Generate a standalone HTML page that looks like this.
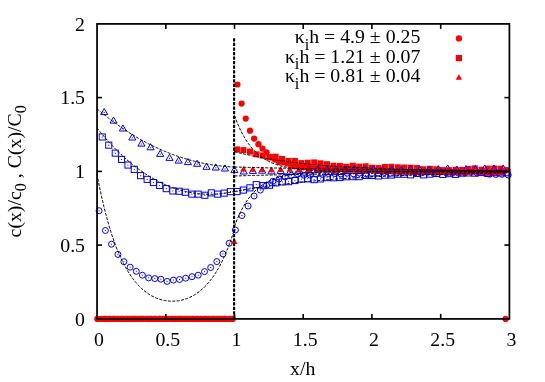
<!DOCTYPE html>
<html><head><meta charset="utf-8"><title>plot</title>
<style>html,body{margin:0;padding:0;background:#fff}svg{display:block;will-change:transform}</style>
</head><body>
<svg width="545" height="382" viewBox="0 0 545 382">
<rect width="545" height="382" fill="#fff"/>
<g fill="none" stroke="#0000ff" stroke-width="1">
<circle cx="99.1" cy="210.7" r="3.0"/>
<circle cx="105.4" cy="230.5" r="3.0"/>
<circle cx="111.5" cy="244.2" r="3.0"/>
<circle cx="117.9" cy="254.4" r="3.0"/>
<circle cx="123.9" cy="261.7" r="3.0"/>
<circle cx="130.1" cy="267.2" r="3.0"/>
<circle cx="136.3" cy="271.3" r="3.0"/>
<circle cx="142.4" cy="275.2" r="3.0"/>
<circle cx="148.6" cy="277.9" r="3.0"/>
<circle cx="154.8" cy="278.6" r="3.0"/>
<circle cx="160.9" cy="279.2" r="3.0"/>
<circle cx="167.1" cy="281.4" r="3.0"/>
<circle cx="173.4" cy="280.1" r="3.0"/>
<circle cx="179.5" cy="279.5" r="3.0"/>
<circle cx="185.7" cy="278.2" r="3.0"/>
<circle cx="192.0" cy="276.7" r="3.0"/>
<circle cx="198.2" cy="275.2" r="3.0"/>
<circle cx="204.5" cy="271.6" r="3.0"/>
<circle cx="210.7" cy="267.5" r="3.0"/>
<circle cx="216.8" cy="261.6" r="3.0"/>
<circle cx="223.0" cy="253.9" r="3.0"/>
<circle cx="229.2" cy="243.2" r="3.0"/>
<circle cx="235.4" cy="230.0" r="3.0"/>
<circle cx="241.9" cy="215.5" r="3.0"/>
<circle cx="248.1" cy="206.0" r="3.0"/>
<circle cx="254.1" cy="196.0" r="3.0"/>
<circle cx="260.3" cy="190.1" r="3.0"/>
<circle cx="266.5" cy="185.3" r="3.0"/>
<circle cx="272.8" cy="181.3" r="3.0"/>
<circle cx="278.9" cy="179.1" r="3.0"/>
<circle cx="285.2" cy="176.9" r="3.0"/>
<circle cx="291.4" cy="175.4" r="3.0"/>
<circle cx="297.7" cy="174.0" r="3.0"/>
<circle cx="303.9" cy="175.2" r="3.0"/>
<circle cx="310.1" cy="175.1" r="3.0"/>
<circle cx="316.3" cy="174.0" r="3.0"/>
<circle cx="322.5" cy="174.6" r="3.0"/>
<circle cx="328.6" cy="173.7" r="3.0"/>
<circle cx="334.8" cy="173.7" r="3.0"/>
<circle cx="341.0" cy="174.0" r="3.0"/>
<circle cx="347.2" cy="173.2" r="3.0"/>
<circle cx="353.4" cy="173.8" r="3.0"/>
<circle cx="359.6" cy="173.1" r="3.0"/>
<circle cx="365.8" cy="173.6" r="3.0"/>
<circle cx="372.0" cy="173.5" r="3.0"/>
<circle cx="378.2" cy="173.0" r="3.0"/>
<circle cx="384.4" cy="172.3" r="3.0"/>
<circle cx="390.5" cy="173.3" r="3.0"/>
<circle cx="396.7" cy="173.1" r="3.0"/>
<circle cx="402.9" cy="172.5" r="3.0"/>
<circle cx="409.1" cy="172.0" r="3.0"/>
<circle cx="415.3" cy="172.6" r="3.0"/>
<circle cx="421.5" cy="172.8" r="3.0"/>
<circle cx="427.7" cy="171.9" r="3.0"/>
<circle cx="433.9" cy="173.3" r="3.0"/>
<circle cx="440.1" cy="172.1" r="3.0"/>
<circle cx="446.3" cy="172.9" r="3.0"/>
<circle cx="452.4" cy="173.1" r="3.0"/>
<circle cx="458.6" cy="173.2" r="3.0"/>
<circle cx="464.8" cy="172.9" r="3.0"/>
<circle cx="471.0" cy="172.1" r="3.0"/>
<circle cx="477.2" cy="173.1" r="3.0"/>
<circle cx="483.4" cy="172.5" r="3.0"/>
<circle cx="489.6" cy="174.2" r="3.0"/>
<circle cx="495.8" cy="174.5" r="3.0"/>
<circle cx="502.0" cy="174.3" r="3.0"/>
<circle cx="508.2" cy="175.0" r="3.0"/>
</g><g fill="#0000ff">
<rect x="98.6" y="210.2" width="1" height="1"/>
<rect x="104.9" y="230.0" width="1" height="1"/>
<rect x="111.0" y="243.7" width="1" height="1"/>
<rect x="117.4" y="253.9" width="1" height="1"/>
<rect x="123.4" y="261.2" width="1" height="1"/>
<rect x="129.6" y="266.7" width="1" height="1"/>
<rect x="135.8" y="270.8" width="1" height="1"/>
<rect x="141.9" y="274.7" width="1" height="1"/>
<rect x="148.1" y="277.4" width="1" height="1"/>
<rect x="154.3" y="278.1" width="1" height="1"/>
<rect x="160.4" y="278.7" width="1" height="1"/>
<rect x="166.6" y="280.9" width="1" height="1"/>
<rect x="172.9" y="279.6" width="1" height="1"/>
<rect x="179.0" y="279.0" width="1" height="1"/>
<rect x="185.2" y="277.7" width="1" height="1"/>
<rect x="191.5" y="276.2" width="1" height="1"/>
<rect x="197.7" y="274.7" width="1" height="1"/>
<rect x="204.0" y="271.1" width="1" height="1"/>
<rect x="210.2" y="267.0" width="1" height="1"/>
<rect x="216.3" y="261.1" width="1" height="1"/>
<rect x="222.5" y="253.4" width="1" height="1"/>
<rect x="228.7" y="242.7" width="1" height="1"/>
<rect x="234.9" y="229.5" width="1" height="1"/>
<rect x="241.4" y="215.0" width="1" height="1"/>
<rect x="247.6" y="205.5" width="1" height="1"/>
<rect x="253.6" y="195.5" width="1" height="1"/>
<rect x="259.8" y="189.6" width="1" height="1"/>
<rect x="266.0" y="184.8" width="1" height="1"/>
<rect x="272.3" y="180.8" width="1" height="1"/>
<rect x="278.4" y="178.6" width="1" height="1"/>
<rect x="284.7" y="176.4" width="1" height="1"/>
<rect x="290.9" y="174.9" width="1" height="1"/>
<rect x="297.2" y="173.5" width="1" height="1"/>
<rect x="303.4" y="174.7" width="1" height="1"/>
<rect x="309.6" y="174.6" width="1" height="1"/>
<rect x="315.8" y="173.5" width="1" height="1"/>
<rect x="322.0" y="174.1" width="1" height="1"/>
<rect x="328.1" y="173.2" width="1" height="1"/>
<rect x="334.3" y="173.2" width="1" height="1"/>
<rect x="340.5" y="173.5" width="1" height="1"/>
<rect x="346.7" y="172.7" width="1" height="1"/>
<rect x="352.9" y="173.3" width="1" height="1"/>
<rect x="359.1" y="172.6" width="1" height="1"/>
<rect x="365.3" y="173.1" width="1" height="1"/>
<rect x="371.5" y="173.0" width="1" height="1"/>
<rect x="377.7" y="172.5" width="1" height="1"/>
<rect x="383.9" y="171.8" width="1" height="1"/>
<rect x="390.0" y="172.8" width="1" height="1"/>
<rect x="396.2" y="172.6" width="1" height="1"/>
<rect x="402.4" y="172.0" width="1" height="1"/>
<rect x="408.6" y="171.5" width="1" height="1"/>
<rect x="414.8" y="172.1" width="1" height="1"/>
<rect x="421.0" y="172.3" width="1" height="1"/>
<rect x="427.2" y="171.4" width="1" height="1"/>
<rect x="433.4" y="172.8" width="1" height="1"/>
<rect x="439.6" y="171.6" width="1" height="1"/>
<rect x="445.8" y="172.4" width="1" height="1"/>
<rect x="451.9" y="172.6" width="1" height="1"/>
<rect x="458.1" y="172.7" width="1" height="1"/>
<rect x="464.3" y="172.4" width="1" height="1"/>
<rect x="470.5" y="171.6" width="1" height="1"/>
<rect x="476.7" y="172.6" width="1" height="1"/>
<rect x="482.9" y="172.0" width="1" height="1"/>
<rect x="489.1" y="173.7" width="1" height="1"/>
<rect x="495.3" y="174.0" width="1" height="1"/>
<rect x="501.5" y="173.8" width="1" height="1"/>
<rect x="507.7" y="174.5" width="1" height="1"/>
</g>
<g fill="#ff0000">
<circle cx="97.3" cy="318.9" r="3.1"/>
<circle cx="101.4" cy="318.9" r="3.1"/>
<circle cx="105.6" cy="318.9" r="3.1"/>
<circle cx="109.7" cy="318.9" r="3.1"/>
<circle cx="113.9" cy="318.9" r="3.1"/>
<circle cx="118.0" cy="318.9" r="3.1"/>
<circle cx="122.1" cy="318.9" r="3.1"/>
<circle cx="126.3" cy="318.9" r="3.1"/>
<circle cx="130.4" cy="318.9" r="3.1"/>
<circle cx="134.6" cy="318.9" r="3.1"/>
<circle cx="138.7" cy="318.9" r="3.1"/>
<circle cx="142.8" cy="318.9" r="3.1"/>
<circle cx="147.0" cy="318.9" r="3.1"/>
<circle cx="151.1" cy="318.9" r="3.1"/>
<circle cx="155.3" cy="318.9" r="3.1"/>
<circle cx="159.4" cy="318.9" r="3.1"/>
<circle cx="163.5" cy="318.9" r="3.1"/>
<circle cx="167.7" cy="318.9" r="3.1"/>
<circle cx="171.8" cy="318.9" r="3.1"/>
<circle cx="176.0" cy="318.9" r="3.1"/>
<circle cx="180.1" cy="318.9" r="3.1"/>
<circle cx="184.2" cy="318.9" r="3.1"/>
<circle cx="188.4" cy="318.9" r="3.1"/>
<circle cx="192.5" cy="318.9" r="3.1"/>
<circle cx="196.7" cy="318.9" r="3.1"/>
<circle cx="200.8" cy="318.9" r="3.1"/>
<circle cx="204.9" cy="318.9" r="3.1"/>
<circle cx="209.1" cy="318.9" r="3.1"/>
<circle cx="213.2" cy="318.9" r="3.1"/>
<circle cx="217.4" cy="318.9" r="3.1"/>
<circle cx="221.5" cy="318.9" r="3.1"/>
<circle cx="225.6" cy="318.9" r="3.1"/>
<circle cx="229.8" cy="318.9" r="3.1"/>
<circle cx="237.4" cy="84.5" r="3.1"/>
<circle cx="241.6" cy="103.6" r="3.1"/>
<circle cx="245.7" cy="118.6" r="3.1"/>
<circle cx="250.0" cy="130.7" r="3.1"/>
<circle cx="254.1" cy="138.6" r="3.1"/>
<circle cx="258.4" cy="144.2" r="3.1"/>
<circle cx="262.5" cy="148.6" r="3.1"/>
<circle cx="266.5" cy="152.3" r="3.1"/>
<circle cx="270.6" cy="156.8" r="3.1"/>
<circle cx="274.8" cy="159.6" r="3.1"/>
<circle cx="278.9" cy="161.8" r="3.1"/>
<circle cx="283.1" cy="162.5" r="3.1"/>
<circle cx="287.2" cy="163.5" r="3.1"/>
<circle cx="291.3" cy="165.6" r="3.1"/>
<circle cx="295.5" cy="166.2" r="3.1"/>
<circle cx="299.6" cy="166.7" r="3.1"/>
<circle cx="303.8" cy="167.1" r="3.1"/>
<circle cx="307.9" cy="167.1" r="3.1"/>
<circle cx="312.0" cy="167.3" r="3.1"/>
<circle cx="316.2" cy="168.1" r="3.1"/>
<circle cx="320.3" cy="168.8" r="3.1"/>
<circle cx="324.5" cy="168.5" r="3.1"/>
<circle cx="328.6" cy="168.8" r="3.1"/>
<circle cx="332.7" cy="168.7" r="3.1"/>
<circle cx="336.9" cy="168.4" r="3.1"/>
<circle cx="341.0" cy="169.0" r="3.1"/>
<circle cx="345.2" cy="169.4" r="3.1"/>
<circle cx="349.3" cy="169.4" r="3.1"/>
<circle cx="353.4" cy="169.5" r="3.1"/>
<circle cx="357.6" cy="170.6" r="3.1"/>
<circle cx="361.7" cy="169.5" r="3.1"/>
<circle cx="365.9" cy="169.8" r="3.1"/>
<circle cx="370.0" cy="169.8" r="3.1"/>
<circle cx="374.1" cy="170.0" r="3.1"/>
<circle cx="378.3" cy="170.8" r="3.1"/>
<circle cx="382.4" cy="170.9" r="3.1"/>
<circle cx="386.6" cy="171.4" r="3.1"/>
<circle cx="390.7" cy="170.7" r="3.1"/>
<circle cx="394.8" cy="171.7" r="3.1"/>
<circle cx="399.0" cy="171.8" r="3.1"/>
<circle cx="403.1" cy="171.6" r="3.1"/>
<circle cx="407.3" cy="171.8" r="3.1"/>
<circle cx="411.4" cy="171.6" r="3.1"/>
<circle cx="415.5" cy="172.1" r="3.1"/>
<circle cx="419.7" cy="172.3" r="3.1"/>
<circle cx="423.8" cy="172.1" r="3.1"/>
<circle cx="428.0" cy="172.3" r="3.1"/>
<circle cx="432.1" cy="171.9" r="3.1"/>
<circle cx="436.2" cy="172.5" r="3.1"/>
<circle cx="440.4" cy="171.3" r="3.1"/>
<circle cx="444.5" cy="171.7" r="3.1"/>
<circle cx="448.7" cy="172.5" r="3.1"/>
<circle cx="452.8" cy="172.4" r="3.1"/>
<circle cx="456.9" cy="172.3" r="3.1"/>
<circle cx="461.1" cy="172.3" r="3.1"/>
<circle cx="465.2" cy="172.7" r="3.1"/>
<circle cx="469.4" cy="171.7" r="3.1"/>
<circle cx="473.5" cy="171.5" r="3.1"/>
<circle cx="477.6" cy="172.3" r="3.1"/>
<circle cx="481.8" cy="172.3" r="3.1"/>
<circle cx="485.9" cy="172.9" r="3.1"/>
<circle cx="490.1" cy="173.0" r="3.1"/>
<circle cx="494.2" cy="172.6" r="3.1"/>
<circle cx="498.3" cy="172.8" r="3.1"/>
<circle cx="502.5" cy="172.0" r="3.1"/>
<circle cx="505.6" cy="318.9" r="3.1"/>
<circle cx="232.7" cy="318.9" r="3.1"/>
</g>
<g fill="none" stroke="#0000ff" stroke-width="1">
<rect x="99.2" y="133.9" width="6.1" height="6.1"/>
<rect x="105.7" y="142.1" width="6.1" height="6.1"/>
<rect x="112.2" y="150.1" width="6.1" height="6.1"/>
<rect x="118.5" y="156.4" width="6.1" height="6.1"/>
<rect x="124.9" y="162.0" width="6.1" height="6.1"/>
<rect x="131.2" y="166.3" width="6.1" height="6.1"/>
<rect x="137.5" y="172.6" width="6.1" height="6.1"/>
<rect x="144.1" y="176.3" width="6.1" height="6.1"/>
<rect x="150.3" y="179.5" width="6.1" height="6.1"/>
<rect x="156.6" y="182.4" width="6.1" height="6.1"/>
<rect x="163.2" y="185.6" width="6.1" height="6.1"/>
<rect x="169.8" y="187.9" width="6.1" height="6.1"/>
<rect x="176.0" y="188.2" width="6.1" height="6.1"/>
<rect x="182.3" y="189.2" width="6.1" height="6.1"/>
<rect x="188.8" y="191.1" width="6.1" height="6.1"/>
<rect x="195.1" y="191.1" width="6.1" height="6.1"/>
<rect x="201.8" y="192.2" width="6.1" height="6.1"/>
<rect x="208.3" y="189.8" width="6.1" height="6.1"/>
<rect x="214.6" y="191.1" width="6.1" height="6.1"/>
<rect x="221.1" y="190.1" width="6.1" height="6.1"/>
<rect x="227.4" y="188.6" width="6.1" height="6.1"/>
<rect x="234.0" y="188.5" width="6.1" height="6.1"/>
<rect x="240.3" y="187.0" width="6.1" height="6.1"/>
<rect x="246.9" y="184.8" width="6.1" height="6.1"/>
<rect x="253.2" y="181.6" width="6.1" height="6.1"/>
<rect x="260.1" y="182.6" width="6.1" height="6.1"/>
<rect x="266.4" y="182.2" width="6.1" height="6.1"/>
<rect x="272.9" y="179.8" width="6.1" height="6.1"/>
<rect x="279.2" y="178.9" width="6.1" height="6.1"/>
<rect x="285.6" y="178.6" width="6.1" height="6.1"/>
<rect x="291.9" y="177.5" width="6.1" height="6.1"/>
<rect x="298.3" y="176.0" width="6.1" height="6.1"/>
<rect x="304.6" y="175.8" width="6.1" height="6.1"/>
<rect x="311.1" y="176.6" width="6.1" height="6.1"/>
<rect x="317.5" y="175.9" width="6.1" height="6.1"/>
<rect x="323.9" y="174.6" width="6.1" height="6.1"/>
<rect x="330.4" y="174.7" width="6.1" height="6.1"/>
<rect x="336.8" y="174.5" width="6.1" height="6.1"/>
<rect x="343.2" y="173.7" width="6.1" height="6.1"/>
<rect x="349.7" y="173.6" width="6.1" height="6.1"/>
<rect x="356.1" y="173.6" width="6.1" height="6.1"/>
<rect x="362.5" y="172.4" width="6.1" height="6.1"/>
<rect x="369.0" y="172.4" width="6.1" height="6.1"/>
<rect x="375.4" y="172.9" width="6.1" height="6.1"/>
<rect x="381.8" y="172.1" width="6.1" height="6.1"/>
<rect x="388.2" y="172.0" width="6.1" height="6.1"/>
<rect x="394.7" y="171.2" width="6.1" height="6.1"/>
<rect x="401.1" y="171.2" width="6.1" height="6.1"/>
<rect x="407.5" y="171.8" width="6.1" height="6.1"/>
<rect x="414.0" y="170.4" width="6.1" height="6.1"/>
<rect x="420.4" y="171.8" width="6.1" height="6.1"/>
<rect x="426.8" y="171.1" width="6.1" height="6.1"/>
<rect x="433.3" y="170.4" width="6.1" height="6.1"/>
<rect x="439.7" y="171.4" width="6.1" height="6.1"/>
<rect x="446.1" y="170.6" width="6.1" height="6.1"/>
<rect x="452.5" y="171.3" width="6.1" height="6.1"/>
<rect x="459.0" y="170.1" width="6.1" height="6.1"/>
<rect x="465.4" y="169.9" width="6.1" height="6.1"/>
<rect x="471.8" y="170.1" width="6.1" height="6.1"/>
<rect x="478.3" y="169.5" width="6.1" height="6.1"/>
<rect x="484.7" y="170.4" width="6.1" height="6.1"/>
<rect x="491.1" y="169.7" width="6.1" height="6.1"/>
<rect x="497.6" y="169.8" width="6.1" height="6.1"/>
<rect x="504.0" y="169.7" width="6.1" height="6.1"/>
</g><g fill="#0000ff">
<rect x="101.8" y="136.5" width="1" height="1"/>
<rect x="108.2" y="144.7" width="1" height="1"/>
<rect x="114.7" y="152.7" width="1" height="1"/>
<rect x="121.1" y="159.0" width="1" height="1"/>
<rect x="127.4" y="164.6" width="1" height="1"/>
<rect x="133.8" y="168.9" width="1" height="1"/>
<rect x="140.1" y="175.2" width="1" height="1"/>
<rect x="146.7" y="178.9" width="1" height="1"/>
<rect x="152.9" y="182.1" width="1" height="1"/>
<rect x="159.2" y="185.0" width="1" height="1"/>
<rect x="165.8" y="188.2" width="1" height="1"/>
<rect x="172.3" y="190.5" width="1" height="1"/>
<rect x="178.6" y="190.8" width="1" height="1"/>
<rect x="184.9" y="191.8" width="1" height="1"/>
<rect x="191.4" y="193.7" width="1" height="1"/>
<rect x="197.7" y="193.7" width="1" height="1"/>
<rect x="204.3" y="194.8" width="1" height="1"/>
<rect x="210.9" y="192.3" width="1" height="1"/>
<rect x="217.2" y="193.7" width="1" height="1"/>
<rect x="223.7" y="192.7" width="1" height="1"/>
<rect x="230.0" y="191.2" width="1" height="1"/>
<rect x="236.6" y="191.1" width="1" height="1"/>
<rect x="242.9" y="189.6" width="1" height="1"/>
<rect x="249.5" y="187.4" width="1" height="1"/>
<rect x="255.8" y="184.2" width="1" height="1"/>
<rect x="262.7" y="185.2" width="1" height="1"/>
<rect x="269.0" y="184.8" width="1" height="1"/>
<rect x="275.5" y="182.3" width="1" height="1"/>
<rect x="281.8" y="181.5" width="1" height="1"/>
<rect x="288.1" y="181.2" width="1" height="1"/>
<rect x="294.5" y="180.1" width="1" height="1"/>
<rect x="300.9" y="178.6" width="1" height="1"/>
<rect x="307.2" y="178.3" width="1" height="1"/>
<rect x="313.6" y="179.1" width="1" height="1"/>
<rect x="320.1" y="178.4" width="1" height="1"/>
<rect x="326.5" y="177.2" width="1" height="1"/>
<rect x="332.9" y="177.2" width="1" height="1"/>
<rect x="339.4" y="177.1" width="1" height="1"/>
<rect x="345.8" y="176.3" width="1" height="1"/>
<rect x="352.2" y="176.2" width="1" height="1"/>
<rect x="358.6" y="176.1" width="1" height="1"/>
<rect x="365.1" y="175.0" width="1" height="1"/>
<rect x="371.5" y="174.9" width="1" height="1"/>
<rect x="377.9" y="175.5" width="1" height="1"/>
<rect x="384.4" y="174.7" width="1" height="1"/>
<rect x="390.8" y="174.5" width="1" height="1"/>
<rect x="397.2" y="173.7" width="1" height="1"/>
<rect x="403.7" y="173.8" width="1" height="1"/>
<rect x="410.1" y="174.4" width="1" height="1"/>
<rect x="416.5" y="173.0" width="1" height="1"/>
<rect x="422.9" y="174.4" width="1" height="1"/>
<rect x="429.4" y="173.7" width="1" height="1"/>
<rect x="435.8" y="173.0" width="1" height="1"/>
<rect x="442.2" y="173.9" width="1" height="1"/>
<rect x="448.7" y="173.2" width="1" height="1"/>
<rect x="455.1" y="173.9" width="1" height="1"/>
<rect x="461.5" y="172.7" width="1" height="1"/>
<rect x="468.0" y="172.4" width="1" height="1"/>
<rect x="474.4" y="172.7" width="1" height="1"/>
<rect x="480.8" y="172.0" width="1" height="1"/>
<rect x="487.2" y="173.0" width="1" height="1"/>
<rect x="493.7" y="172.2" width="1" height="1"/>
<rect x="500.1" y="172.3" width="1" height="1"/>
<rect x="506.5" y="172.3" width="1" height="1"/>
</g>
<g fill="#ff0000">
<rect x="99.3" y="315.9" width="6" height="6"/>
<rect x="105.7" y="315.9" width="6" height="6"/>
<rect x="112.2" y="315.9" width="6" height="6"/>
<rect x="118.6" y="315.9" width="6" height="6"/>
<rect x="125.0" y="315.9" width="6" height="6"/>
<rect x="131.4" y="315.9" width="6" height="6"/>
<rect x="137.9" y="315.9" width="6" height="6"/>
<rect x="144.3" y="315.9" width="6" height="6"/>
<rect x="150.7" y="315.9" width="6" height="6"/>
<rect x="157.2" y="315.9" width="6" height="6"/>
<rect x="163.6" y="315.9" width="6" height="6"/>
<rect x="170.0" y="315.9" width="6" height="6"/>
<rect x="176.5" y="315.9" width="6" height="6"/>
<rect x="182.9" y="315.9" width="6" height="6"/>
<rect x="189.3" y="315.9" width="6" height="6"/>
<rect x="195.8" y="315.9" width="6" height="6"/>
<rect x="202.2" y="315.9" width="6" height="6"/>
<rect x="208.6" y="315.9" width="6" height="6"/>
<rect x="215.0" y="315.9" width="6" height="6"/>
<rect x="221.5" y="315.9" width="6" height="6"/>
<rect x="227.9" y="315.9" width="6" height="6"/>
<rect x="234.1" y="146.4" width="6" height="6"/>
<rect x="240.4" y="147.1" width="6" height="6"/>
<rect x="247.0" y="148.6" width="6" height="6"/>
<rect x="253.3" y="151.3" width="6" height="6"/>
<rect x="259.7" y="152.5" width="6" height="6"/>
<rect x="266.2" y="154.5" width="6" height="6"/>
<rect x="272.6" y="153.7" width="6" height="6"/>
<rect x="279.0" y="156.0" width="6" height="6"/>
<rect x="285.5" y="158.0" width="6" height="6"/>
<rect x="291.9" y="158.0" width="6" height="6"/>
<rect x="298.3" y="160.1" width="6" height="6"/>
<rect x="304.7" y="159.7" width="6" height="6"/>
<rect x="311.2" y="159.4" width="6" height="6"/>
<rect x="317.6" y="160.3" width="6" height="6"/>
<rect x="324.0" y="161.2" width="6" height="6"/>
<rect x="330.5" y="162.7" width="6" height="6"/>
<rect x="336.9" y="162.9" width="6" height="6"/>
<rect x="343.3" y="163.8" width="6" height="6"/>
<rect x="349.8" y="162.7" width="6" height="6"/>
<rect x="356.2" y="163.6" width="6" height="6"/>
<rect x="362.6" y="163.3" width="6" height="6"/>
<rect x="369.0" y="164.7" width="6" height="6"/>
<rect x="375.5" y="165.1" width="6" height="6"/>
<rect x="381.9" y="164.0" width="6" height="6"/>
<rect x="388.3" y="163.8" width="6" height="6"/>
<rect x="394.8" y="164.3" width="6" height="6"/>
<rect x="401.2" y="164.5" width="6" height="6"/>
<rect x="407.6" y="164.7" width="6" height="6"/>
<rect x="414.1" y="165.0" width="6" height="6"/>
<rect x="420.5" y="166.3" width="6" height="6"/>
<rect x="426.9" y="165.8" width="6" height="6"/>
<rect x="433.3" y="166.3" width="6" height="6"/>
<rect x="439.8" y="167.1" width="6" height="6"/>
<rect x="446.2" y="167.2" width="6" height="6"/>
<rect x="452.6" y="166.7" width="6" height="6"/>
<rect x="459.1" y="166.9" width="6" height="6"/>
<rect x="465.5" y="165.9" width="6" height="6"/>
<rect x="471.9" y="165.4" width="6" height="6"/>
<rect x="478.4" y="166.7" width="6" height="6"/>
<rect x="484.8" y="165.6" width="6" height="6"/>
<rect x="491.2" y="165.5" width="6" height="6"/>
<rect x="497.6" y="165.7" width="6" height="6"/>
<rect x="504.1" y="167.1" width="6" height="6"/>
</g>
<g fill="none" stroke="#0000ff" stroke-width="1">
<path d="M104.2 108.5l3.55 6.1h-7.1z"/>
<path d="M113.5 117.0l3.55 6.1h-7.1z"/>
<path d="M122.9 124.9l3.55 6.1h-7.1z"/>
<path d="M132.3 133.9l3.55 6.1h-7.1z"/>
<path d="M141.4 140.0l3.55 6.1h-7.1z"/>
<path d="M150.6 143.7l3.55 6.1h-7.1z"/>
<path d="M160.2 150.3l3.55 6.1h-7.1z"/>
<path d="M169.5 154.3l3.55 6.1h-7.1z"/>
<path d="M178.6 157.0l3.55 6.1h-7.1z"/>
<path d="M187.9 158.5l3.55 6.1h-7.1z"/>
<path d="M197.1 160.2l3.55 6.1h-7.1z"/>
<path d="M206.5 163.2l3.55 6.1h-7.1z"/>
<path d="M215.8 163.9l3.55 6.1h-7.1z"/>
<path d="M225.0 164.9l3.55 6.1h-7.1z"/>
<path d="M234.4 166.5l3.55 6.1h-7.1z"/>
<path d="M243.7 167.9l3.55 6.1h-7.1z"/>
<path d="M252.9 167.3l3.55 6.1h-7.1z"/>
<path d="M262.2 167.1l3.55 6.1h-7.1z"/>
<path d="M271.5 167.8l3.55 6.1h-7.1z"/>
<path d="M280.8 167.4l3.55 6.1h-7.1z"/>
<path d="M290.0 168.2l3.55 6.1h-7.1z"/>
<path d="M299.3 167.0l3.55 6.1h-7.1z"/>
<path d="M308.6 166.8l3.55 6.1h-7.1z"/>
<path d="M317.8 165.9l3.55 6.1h-7.1z"/>
<path d="M327.1 165.8l3.55 6.1h-7.1z"/>
<path d="M336.4 166.3l3.55 6.1h-7.1z"/>
<path d="M345.6 165.9l3.55 6.1h-7.1z"/>
<path d="M354.9 165.4l3.55 6.1h-7.1z"/>
<path d="M364.2 166.3l3.55 6.1h-7.1z"/>
<path d="M373.4 165.6l3.55 6.1h-7.1z"/>
<path d="M382.7 166.0l3.55 6.1h-7.1z"/>
<path d="M392.0 166.1l3.55 6.1h-7.1z"/>
<path d="M401.3 166.1l3.55 6.1h-7.1z"/>
<path d="M410.5 165.1l3.55 6.1h-7.1z"/>
<path d="M419.8 166.0l3.55 6.1h-7.1z"/>
<path d="M429.1 165.9l3.55 6.1h-7.1z"/>
<path d="M438.3 165.6l3.55 6.1h-7.1z"/>
<path d="M447.6 164.9l3.55 6.1h-7.1z"/>
<path d="M456.9 166.1l3.55 6.1h-7.1z"/>
<path d="M466.1 165.6l3.55 6.1h-7.1z"/>
<path d="M475.4 165.4l3.55 6.1h-7.1z"/>
<path d="M484.7 164.9l3.55 6.1h-7.1z"/>
<path d="M494.0 165.0l3.55 6.1h-7.1z"/>
<path d="M503.2 164.9l3.55 6.1h-7.1z"/>
</g><g fill="#0000ff">
<rect x="103.7" y="112.0" width="1" height="1"/>
<rect x="113.0" y="120.5" width="1" height="1"/>
<rect x="122.4" y="128.4" width="1" height="1"/>
<rect x="131.8" y="137.4" width="1" height="1"/>
<rect x="140.9" y="143.5" width="1" height="1"/>
<rect x="150.1" y="147.2" width="1" height="1"/>
<rect x="159.7" y="153.8" width="1" height="1"/>
<rect x="169.0" y="157.8" width="1" height="1"/>
<rect x="178.1" y="160.5" width="1" height="1"/>
<rect x="187.4" y="162.0" width="1" height="1"/>
<rect x="196.6" y="163.7" width="1" height="1"/>
<rect x="206.0" y="166.7" width="1" height="1"/>
<rect x="215.3" y="167.4" width="1" height="1"/>
<rect x="224.5" y="168.4" width="1" height="1"/>
<rect x="233.9" y="170.0" width="1" height="1"/>
<rect x="243.2" y="171.4" width="1" height="1"/>
<rect x="252.4" y="170.8" width="1" height="1"/>
<rect x="261.7" y="170.6" width="1" height="1"/>
<rect x="271.0" y="171.3" width="1" height="1"/>
<rect x="280.2" y="170.9" width="1" height="1"/>
<rect x="289.5" y="171.7" width="1" height="1"/>
<rect x="298.8" y="170.5" width="1" height="1"/>
<rect x="308.1" y="170.3" width="1" height="1"/>
<rect x="317.3" y="169.4" width="1" height="1"/>
<rect x="326.6" y="169.3" width="1" height="1"/>
<rect x="335.9" y="169.8" width="1" height="1"/>
<rect x="345.1" y="169.4" width="1" height="1"/>
<rect x="354.4" y="168.9" width="1" height="1"/>
<rect x="363.7" y="169.8" width="1" height="1"/>
<rect x="372.9" y="169.1" width="1" height="1"/>
<rect x="382.2" y="169.5" width="1" height="1"/>
<rect x="391.5" y="169.6" width="1" height="1"/>
<rect x="400.8" y="169.6" width="1" height="1"/>
<rect x="410.0" y="168.6" width="1" height="1"/>
<rect x="419.3" y="169.5" width="1" height="1"/>
<rect x="428.6" y="169.4" width="1" height="1"/>
<rect x="437.8" y="169.1" width="1" height="1"/>
<rect x="447.1" y="168.4" width="1" height="1"/>
<rect x="456.4" y="169.6" width="1" height="1"/>
<rect x="465.6" y="169.1" width="1" height="1"/>
<rect x="474.9" y="168.9" width="1" height="1"/>
<rect x="484.2" y="168.4" width="1" height="1"/>
<rect x="493.5" y="168.5" width="1" height="1"/>
<rect x="502.7" y="168.4" width="1" height="1"/>
</g>
<g fill="#ff0000">
<path d="M104.2 315.4l3.3 5.6h-6.6z"/>
<path d="M113.5 315.4l3.3 5.6h-6.6z"/>
<path d="M122.7 315.4l3.3 5.6h-6.6z"/>
<path d="M132.0 315.4l3.3 5.6h-6.6z"/>
<path d="M141.3 315.4l3.3 5.6h-6.6z"/>
<path d="M150.6 315.4l3.3 5.6h-6.6z"/>
<path d="M159.8 315.4l3.3 5.6h-6.6z"/>
<path d="M169.1 315.4l3.3 5.6h-6.6z"/>
<path d="M178.4 315.4l3.3 5.6h-6.6z"/>
<path d="M187.6 315.4l3.3 5.6h-6.6z"/>
<path d="M196.9 315.4l3.3 5.6h-6.6z"/>
<path d="M206.2 315.4l3.3 5.6h-6.6z"/>
<path d="M215.4 315.4l3.3 5.6h-6.6z"/>
<path d="M224.7 315.4l3.3 5.6h-6.6z"/>
<path d="M234.2 238.3l3.3 5.6h-6.6z"/>
<path d="M243.5 165.9l3.3 5.6h-6.6z"/>
<path d="M252.7 166.2l3.3 5.6h-6.6z"/>
<path d="M262.0 166.5l3.3 5.6h-6.6z"/>
<path d="M271.3 166.7l3.3 5.6h-6.6z"/>
<path d="M280.5 166.4l3.3 5.6h-6.6z"/>
<path d="M289.8 166.2l3.3 5.6h-6.6z"/>
<path d="M299.1 166.5l3.3 5.6h-6.6z"/>
<path d="M308.4 167.0l3.3 5.6h-6.6z"/>
<path d="M317.6 166.9l3.3 5.6h-6.6z"/>
<path d="M326.9 166.9l3.3 5.6h-6.6z"/>
<path d="M336.2 167.8l3.3 5.6h-6.6z"/>
<path d="M345.4 167.2l3.3 5.6h-6.6z"/>
<path d="M354.7 167.0l3.3 5.6h-6.6z"/>
<path d="M364.0 167.2l3.3 5.6h-6.6z"/>
<path d="M373.2 167.3l3.3 5.6h-6.6z"/>
<path d="M382.5 167.6l3.3 5.6h-6.6z"/>
<path d="M391.8 168.0l3.3 5.6h-6.6z"/>
<path d="M401.1 167.3l3.3 5.6h-6.6z"/>
<path d="M410.3 167.9l3.3 5.6h-6.6z"/>
<path d="M419.6 167.4l3.3 5.6h-6.6z"/>
<path d="M428.9 167.2l3.3 5.6h-6.6z"/>
<path d="M438.1 167.9l3.3 5.6h-6.6z"/>
<path d="M447.4 167.9l3.3 5.6h-6.6z"/>
<path d="M456.7 167.3l3.3 5.6h-6.6z"/>
<path d="M465.9 167.5l3.3 5.6h-6.6z"/>
<path d="M475.2 168.2l3.3 5.6h-6.6z"/>
<path d="M484.5 168.3l3.3 5.6h-6.6z"/>
<path d="M493.8 168.3l3.3 5.6h-6.6z"/>
<path d="M503.0 167.4l3.3 5.6h-6.6z"/>
</g>
<g fill="none" stroke="#000" stroke-width="1" stroke-dasharray="3 1.4">
<polyline points="97.0,174.3 98.2,180.3 99.3,186.0 100.5,191.5 101.6,196.8 102.8,201.8 103.9,206.6 105.1,211.2 106.2,215.6 107.4,219.9 108.5,223.9 109.6,227.8 110.8,231.5 111.9,235.1 113.1,238.5 114.2,241.7 115.4,244.9 116.5,247.9 117.7,250.7 118.8,253.5 120.0,256.1 121.1,258.6 122.2,261.0 123.4,263.3 124.5,265.5 125.7,267.6 126.8,269.6 128.0,271.5 129.1,273.3 130.3,275.0 131.4,276.7 132.6,278.3 133.7,279.8 134.8,281.3 136.0,282.6 137.1,284.0 138.3,285.2 139.4,286.4 140.6,287.5 141.7,288.6 142.9,289.6 144.0,290.6 145.2,291.5 146.3,292.4 147.4,293.2 148.6,294.0 149.7,294.7 150.9,295.4 152.0,296.0 153.2,296.6 154.3,297.2 155.5,297.7 156.6,298.2 157.8,298.6 158.9,299.0 160.0,299.4 161.2,299.7 162.3,300.0 163.5,300.3 164.6,300.5 165.8,300.7 166.9,300.9 168.1,301.0 169.2,301.1 170.4,301.2 171.5,301.2 172.6,301.2 173.8,301.2 174.9,301.1 176.1,301.0 177.2,300.9 178.4,300.8 179.5,300.6 180.7,300.3 181.8,300.1 183.0,299.8 184.1,299.5 185.2,299.1 186.4,298.7 187.5,298.3 188.7,297.8 189.8,297.3 191.0,296.8 192.1,296.2 193.3,295.6 194.4,294.9 195.6,294.2 196.7,293.4 197.8,292.6 199.0,291.8 200.1,290.9 201.3,289.9 202.4,288.9 203.6,287.9 204.7,286.7 205.9,285.6 207.0,284.3 208.2,283.0 209.3,281.7 210.4,280.3 211.6,278.8 212.7,277.2 213.9,275.6 215.0,273.8 216.2,272.0 217.3,270.1 218.5,268.2 219.6,266.1 220.8,263.9 221.9,261.7 223.0,259.3 224.2,256.8 225.3,254.2 226.5,251.5 227.6,248.7 228.8,245.8 229.9,242.7 231.1,239.5 232.2,236.1 233.4,232.6 234.5,228.9"/>
<polyline points="97.0,127.9 98.2,129.3 99.3,130.8 100.5,132.2 101.6,133.6 102.8,134.9 103.9,136.3 105.1,137.6 106.2,139.0 107.4,140.3 108.5,141.5 109.6,142.8 110.8,144.0 111.9,145.3 113.1,146.5 114.2,147.7 115.4,148.9 116.5,150.0 117.7,151.2 118.8,152.3 120.0,153.4 121.1,154.5 122.2,155.5 123.4,156.6 124.5,157.6 125.7,158.7 126.8,159.7 128.0,160.7 129.1,161.6 130.3,162.6 131.4,163.5 132.6,164.5 133.7,165.4 134.8,166.3 136.0,167.2 137.1,168.0 138.3,168.9 139.4,169.7 140.6,170.5 141.7,171.3 142.9,172.1 144.0,172.9 145.2,173.7 146.3,174.4 147.4,175.1 148.6,175.9 149.7,176.6 150.9,177.2 152.0,177.9 153.2,178.6 154.3,179.2 155.5,179.8 156.6,180.5 157.8,181.1 158.9,181.7 160.0,182.2 161.2,182.8 162.3,183.3 163.5,183.9 164.6,184.4 165.8,184.9 166.9,185.4 168.1,185.9 169.2,186.3 170.4,186.8 171.5,187.2 172.6,187.6 173.8,188.0 174.9,188.4 176.1,188.8 177.2,189.2 178.4,189.5 179.5,189.9 180.7,190.2 181.8,190.5 183.0,190.8 184.1,191.1 185.2,191.4 186.4,191.7 187.5,191.9 188.7,192.2 189.8,192.4 191.0,192.6 192.1,192.8 193.3,193.0 194.4,193.2 195.6,193.3 196.7,193.5 197.8,193.6 199.0,193.8 200.1,193.9 201.3,194.0 202.4,194.0 203.6,194.1 204.7,194.2 205.9,194.2 207.0,194.3 208.2,194.3 209.3,194.3 210.4,194.3 211.6,194.3 212.7,194.3 213.9,194.2 215.0,194.2 216.2,194.1 217.3,194.0 218.5,193.9 219.6,193.8 220.8,193.7 221.9,193.6 223.0,193.4 224.2,193.3 225.3,193.1 226.5,192.9 227.6,192.7 228.8,192.5 229.9,192.3 231.1,192.1 232.2,191.8 233.4,191.6 234.5,191.3"/>
<polyline points="97.0,108.7 98.2,109.7 99.3,110.7 100.5,111.6 101.6,112.6 102.8,113.5 103.9,114.4 105.1,115.3 106.2,116.3 107.4,117.2 108.5,118.1 109.6,118.9 110.8,119.8 111.9,120.7 113.1,121.5 114.2,122.4 115.4,123.2 116.5,124.0 117.7,124.9 118.8,125.7 120.0,126.5 121.1,127.3 122.2,128.1 123.4,128.8 124.5,129.6 125.7,130.4 126.8,131.1 128.0,131.9 129.1,132.6 130.3,133.3 131.4,134.0 132.6,134.7 133.7,135.4 134.8,136.1 136.0,136.8 137.1,137.5 138.3,138.2 139.4,138.8 140.6,139.5 141.7,140.1 142.9,140.7 144.0,141.4 145.2,142.0 146.3,142.6 147.4,143.2 148.6,143.8 149.7,144.4 150.9,144.9 152.0,145.5 153.2,146.1 154.3,146.6 155.5,147.2 156.6,147.7 157.8,148.2 158.9,148.8 160.0,149.3 161.2,149.8 162.3,150.3 163.5,150.8 164.6,151.3 165.8,151.7 166.9,152.2 168.1,152.7 169.2,153.1 170.4,153.6 171.5,154.0 172.6,154.4 173.8,154.9 174.9,155.3 176.1,155.7 177.2,156.1 178.4,156.5 179.5,156.9 180.7,157.2 181.8,157.6 183.0,158.0 184.1,158.3 185.2,158.7 186.4,159.0 187.5,159.4 188.7,159.7 189.8,160.0 191.0,160.3 192.1,160.6 193.3,160.9 194.4,161.2 195.6,161.5 196.7,161.8 197.8,162.1 199.0,162.3 200.1,162.6 201.3,162.8 202.4,163.1 203.6,163.3 204.7,163.5 205.9,163.7 207.0,164.0 208.2,164.2 209.3,164.4 210.4,164.6 211.6,164.7 212.7,164.9 213.9,165.1 215.0,165.3 216.2,165.4 217.3,165.6 218.5,165.7 219.6,165.8 220.8,166.0 221.9,166.1 223.0,166.2 224.2,166.3 225.3,166.4 226.5,166.5 227.6,166.6 228.8,166.7 229.9,166.8 231.1,166.8 232.2,166.9 233.4,166.9 234.5,167.0"/>
<polyline points="234.5,115.5 235.9,119.2 237.2,122.6 238.6,125.9 239.9,128.9 241.3,131.7 242.7,134.3 244.0,136.7 245.4,139.0 246.7,141.2 248.1,143.2 249.5,145.0 250.8,146.8 252.2,148.4 253.6,149.9 254.9,151.3 256.3,152.7 257.6,153.9 259.0,155.1 260.4,156.1 261.7,157.1 263.1,158.1 264.4,159.0 265.8,159.8 267.2,160.5 268.5,161.3 269.9,161.9 271.2,162.6 272.6,163.1 274.0,163.7 275.3,164.2 276.7,164.7 278.0,165.1 279.4,165.5 280.8,165.9 282.1,166.3 283.5,166.6 284.8,166.9 286.2,167.2 287.6,167.5 288.9,167.8 290.3,168.0 291.7,168.2 293.0,168.4 294.4,168.6 295.7,168.8 297.1,169.0 298.5,169.1 299.8,169.3 301.2,169.4 302.5,169.6 303.9,169.7 305.3,169.8 306.6,169.9 308.0,170.0 309.3,170.1 310.7,170.2 312.1,170.3 313.4,170.3 314.8,170.4 316.1,170.5 317.5,170.5 318.9,170.6 320.2,170.6 321.6,170.7 322.9,170.7 324.3,170.8 325.7,170.8 327.0,170.9 328.4,170.9 329.8,170.9 331.1,171.0 332.5,171.0 333.8,171.0 335.2,171.0 336.6,171.1 337.9,171.1 339.3,171.1 340.6,171.1 342.0,171.1 343.4,171.2 344.7,171.2 346.1,171.2 347.4,171.2 348.8,171.2 350.2,171.2 351.5,171.2 352.9,171.3 354.2,171.3 355.6,171.3 357.0,171.3 358.3,171.3 359.7,171.3 361.1,171.3 362.4,171.3 363.8,171.3 365.1,171.3 366.5,171.3 367.9,171.3 369.2,171.3 370.6,171.3 371.9,171.3 373.3,171.3 374.7,171.4 376.0,171.4 377.4,171.4 378.7,171.4 380.1,171.4 381.5,171.4 382.8,171.4 384.2,171.4 385.5,171.4 386.9,171.4 388.3,171.4 389.6,171.4 391.0,171.4 392.3,171.4 393.7,171.4 395.1,171.4 396.4,171.4 397.8,171.4 399.2,171.4 400.5,171.4 401.9,171.4 403.2,171.4 404.6,171.4 406.0,171.4 407.3,171.4 408.7,171.4 410.0,171.4 411.4,171.4 412.8,171.4 414.1,171.4 415.5,171.4 416.8,171.4 418.2,171.4 419.6,171.4 420.9,171.4 422.3,171.4 423.6,171.4 425.0,171.4 426.4,171.4 427.7,171.4 429.1,171.4 430.4,171.4 431.8,171.4 433.2,171.4 434.5,171.4 435.9,171.4 437.3,171.4 438.6,171.4 440.0,171.4 441.3,171.4 442.7,171.4 444.1,171.4 445.4,171.4 446.8,171.4 448.1,171.4 449.5,171.4 450.9,171.4 452.2,171.4 453.6,171.4 454.9,171.4 456.3,171.4 457.7,171.4 459.0,171.4 460.4,171.4 461.7,171.4 463.1,171.4 464.5,171.4 465.8,171.4 467.2,171.4 468.5,171.4 469.9,171.4 471.3,171.4 472.6,171.4 474.0,171.4 475.4,171.4 476.7,171.4 478.1,171.4 479.4,171.4 480.8,171.4 482.2,171.4 483.5,171.4 484.9,171.4 486.2,171.4 487.6,171.4 489.0,171.4 490.3,171.4 491.7,171.4 493.0,171.4 494.4,171.4 495.8,171.4 497.1,171.4 498.5,171.4 499.8,171.4 501.2,171.4 502.6,171.4 503.9,171.4 505.3,171.4 506.7,171.4"/>
<polyline points="234.5,151.6 235.9,152.0 237.2,152.3 238.6,152.7 239.9,153.0 241.3,153.4 242.7,153.7 244.0,154.0 245.4,154.3 246.7,154.6 248.1,154.9 249.5,155.2 250.8,155.5 252.2,155.8 253.6,156.1 254.9,156.4 256.3,156.6 257.6,156.9 259.0,157.2 260.4,157.4 261.7,157.7 263.1,157.9 264.4,158.2 265.8,158.4 267.2,158.6 268.5,158.9 269.9,159.1 271.2,159.3 272.6,159.5 274.0,159.7 275.3,160.0 276.7,160.2 278.0,160.4 279.4,160.6 280.8,160.8 282.1,161.0 283.5,161.1 284.8,161.3 286.2,161.5 287.6,161.7 288.9,161.9 290.3,162.0 291.7,162.2 293.0,162.4 294.4,162.5 295.7,162.7 297.1,162.8 298.5,163.0 299.8,163.2 301.2,163.3 302.5,163.5 303.9,163.6 305.3,163.7 306.6,163.9 308.0,164.0 309.3,164.1 310.7,164.3 312.1,164.4 313.4,164.5 314.8,164.7 316.1,164.8 317.5,164.9 318.9,165.0 320.2,165.1 321.6,165.2 322.9,165.4 324.3,165.5 325.7,165.6 327.0,165.7 328.4,165.8 329.8,165.9 331.1,166.0 332.5,166.1 333.8,166.2 335.2,166.3 336.6,166.4 337.9,166.4 339.3,166.5 340.6,166.6 342.0,166.7 343.4,166.8 344.7,166.9 346.1,167.0 347.4,167.0 348.8,167.1 350.2,167.2 351.5,167.3 352.9,167.3 354.2,167.4 355.6,167.5 357.0,167.6 358.3,167.6 359.7,167.7 361.1,167.8 362.4,167.8 363.8,167.9 365.1,168.0 366.5,168.0 367.9,168.1 369.2,168.1 370.6,168.2 371.9,168.3 373.3,168.3 374.7,168.4 376.0,168.4 377.4,168.5 378.7,168.5 380.1,168.6 381.5,168.6 382.8,168.7 384.2,168.7 385.5,168.8 386.9,168.8 388.3,168.9 389.6,168.9 391.0,169.0 392.3,169.0 393.7,169.1 395.1,169.1 396.4,169.1 397.8,169.2 399.2,169.2 400.5,169.3 401.9,169.3 403.2,169.3 404.6,169.4 406.0,169.4 407.3,169.4 408.7,169.5 410.0,169.5 411.4,169.5 412.8,169.6 414.1,169.6 415.5,169.6 416.8,169.7 418.2,169.7 419.6,169.7 420.9,169.8 422.3,169.8 423.6,169.8 425.0,169.9 426.4,169.9 427.7,169.9 429.1,169.9 430.4,170.0 431.8,170.0 433.2,170.0 434.5,170.0 435.9,170.1 437.3,170.1 438.6,170.1 440.0,170.1 441.3,170.2 442.7,170.2 444.1,170.2 445.4,170.2 446.8,170.2 448.1,170.3 449.5,170.3 450.9,170.3 452.2,170.3 453.6,170.3 454.9,170.4 456.3,170.4 457.7,170.4 459.0,170.4 460.4,170.4 461.7,170.5 463.1,170.5 464.5,170.5 465.8,170.5 467.2,170.5 468.5,170.5 469.9,170.6 471.3,170.6 472.6,170.6 474.0,170.6 475.4,170.6 476.7,170.6 478.1,170.6 479.4,170.7 480.8,170.7 482.2,170.7 483.5,170.7 484.9,170.7 486.2,170.7 487.6,170.7 489.0,170.7 490.3,170.8 491.7,170.8 493.0,170.8 494.4,170.8 495.8,170.8 497.1,170.8 498.5,170.8 499.8,170.8 501.2,170.8 502.6,170.9 503.9,170.9 505.3,170.9 506.7,170.9"/>
<polyline points="234.5,167.0 235.9,167.0 237.2,167.1 238.6,167.1 239.9,167.1 241.3,167.2 242.7,167.2 244.0,167.2 245.4,167.3 246.7,167.3 248.1,167.4 249.5,167.4 250.8,167.4 252.2,167.5 253.6,167.5 254.9,167.5 256.3,167.6 257.6,167.6 259.0,167.6 260.4,167.7 261.7,167.7 263.1,167.7 264.4,167.8 265.8,167.8 267.2,167.8 268.5,167.9 269.9,167.9 271.2,167.9 272.6,168.0 274.0,168.0 275.3,168.0 276.7,168.0 278.0,168.1 279.4,168.1 280.8,168.1 282.1,168.2 283.5,168.2 284.8,168.2 286.2,168.2 287.6,168.3 288.9,168.3 290.3,168.3 291.7,168.4 293.0,168.4 294.4,168.4 295.7,168.4 297.1,168.5 298.5,168.5 299.8,168.5 301.2,168.5 302.5,168.6 303.9,168.6 305.3,168.6 306.6,168.6 308.0,168.7 309.3,168.7 310.7,168.7 312.1,168.7 313.4,168.8 314.8,168.8 316.1,168.8 317.5,168.8 318.9,168.9 320.2,168.9 321.6,168.9 322.9,168.9 324.3,168.9 325.7,169.0 327.0,169.0 328.4,169.0 329.8,169.0 331.1,169.0 332.5,169.1 333.8,169.1 335.2,169.1 336.6,169.1 337.9,169.2 339.3,169.2 340.6,169.2 342.0,169.2 343.4,169.2 344.7,169.2 346.1,169.3 347.4,169.3 348.8,169.3 350.2,169.3 351.5,169.3 352.9,169.4 354.2,169.4 355.6,169.4 357.0,169.4 358.3,169.4 359.7,169.5 361.1,169.5 362.4,169.5 363.8,169.5 365.1,169.5 366.5,169.5 367.9,169.6 369.2,169.6 370.6,169.6 371.9,169.6 373.3,169.6 374.7,169.6 376.0,169.6 377.4,169.7 378.7,169.7 380.1,169.7 381.5,169.7 382.8,169.7 384.2,169.7 385.5,169.8 386.9,169.8 388.3,169.8 389.6,169.8 391.0,169.8 392.3,169.8 393.7,169.8 395.1,169.9 396.4,169.9 397.8,169.9 399.2,169.9 400.5,169.9 401.9,169.9 403.2,169.9 404.6,169.9 406.0,170.0 407.3,170.0 408.7,170.0 410.0,170.0 411.4,170.0 412.8,170.0 414.1,170.0 415.5,170.0 416.8,170.1 418.2,170.1 419.6,170.1 420.9,170.1 422.3,170.1 423.6,170.1 425.0,170.1 426.4,170.1 427.7,170.2 429.1,170.2 430.4,170.2 431.8,170.2 433.2,170.2 434.5,170.2 435.9,170.2 437.3,170.2 438.6,170.2 440.0,170.2 441.3,170.3 442.7,170.3 444.1,170.3 445.4,170.3 446.8,170.3 448.1,170.3 449.5,170.3 450.9,170.3 452.2,170.3 453.6,170.3 454.9,170.4 456.3,170.4 457.7,170.4 459.0,170.4 460.4,170.4 461.7,170.4 463.1,170.4 464.5,170.4 465.8,170.4 467.2,170.4 468.5,170.4 469.9,170.5 471.3,170.5 472.6,170.5 474.0,170.5 475.4,170.5 476.7,170.5 478.1,170.5 479.4,170.5 480.8,170.5 482.2,170.5 483.5,170.5 484.9,170.5 486.2,170.5 487.6,170.6 489.0,170.6 490.3,170.6 491.7,170.6 493.0,170.6 494.4,170.6 495.8,170.6 497.1,170.6 498.5,170.6 499.8,170.6 501.2,170.6 502.6,170.6 503.9,170.6 505.3,170.6 506.7,170.7"/>
<polyline points="234.5,226.3 235.9,222.6 237.2,219.3 238.6,216.1 239.9,213.2 241.3,210.4 242.7,207.8 244.0,205.4 245.4,203.2 246.7,201.1 248.1,199.1 249.5,197.3 250.8,195.6 252.2,194.0 253.6,192.5 254.9,191.1 256.3,189.8 257.6,188.6 259.0,187.4 260.4,186.4 261.7,185.4 263.1,184.5 264.4,183.6 265.8,182.8 267.2,182.0 268.5,181.3 269.9,180.7 271.2,180.1 272.6,179.5 274.0,179.0 275.3,178.5 276.7,178.0 278.0,177.6 279.4,177.2 280.8,176.8 282.1,176.4 283.5,176.1 284.8,175.8 286.2,175.5 287.6,175.2 288.9,175.0 290.3,174.7 291.7,174.5 293.0,174.3 294.4,174.1 295.7,173.9 297.1,173.8 298.5,173.6 299.8,173.5 301.2,173.3 302.5,173.2 303.9,173.1 305.3,173.0 306.6,172.9 308.0,172.8 309.3,172.7 310.7,172.6 312.1,172.5 313.4,172.4 314.8,172.4 316.1,172.3 317.5,172.3 318.9,172.2 320.2,172.1 321.6,172.1 322.9,172.0 324.3,172.0 325.7,172.0 327.0,171.9 328.4,171.9 329.8,171.9 331.1,171.8 332.5,171.8 333.8,171.8 335.2,171.7 336.6,171.7 337.9,171.7 339.3,171.7 340.6,171.7 342.0,171.6 343.4,171.6 344.7,171.6 346.1,171.6 347.4,171.6 348.8,171.6 350.2,171.6 351.5,171.6 352.9,171.5 354.2,171.5 355.6,171.5 357.0,171.5 358.3,171.5 359.7,171.5 361.1,171.5 362.4,171.5 363.8,171.5 365.1,171.5 366.5,171.5 367.9,171.5 369.2,171.5 370.6,171.5 371.9,171.5 373.3,171.5 374.7,171.4 376.0,171.4 377.4,171.4 378.7,171.4 380.1,171.4 381.5,171.4 382.8,171.4 384.2,171.4 385.5,171.4 386.9,171.4 388.3,171.4 389.6,171.4 391.0,171.4 392.3,171.4 393.7,171.4 395.1,171.4 396.4,171.4 397.8,171.4 399.2,171.4 400.5,171.4 401.9,171.4 403.2,171.4 404.6,171.4 406.0,171.4 407.3,171.4 408.7,171.4 410.0,171.4 411.4,171.4 412.8,171.4 414.1,171.4 415.5,171.4 416.8,171.4 418.2,171.4 419.6,171.4 420.9,171.4 422.3,171.4 423.6,171.4 425.0,171.4 426.4,171.4 427.7,171.4 429.1,171.4 430.4,171.4 431.8,171.4 433.2,171.4 434.5,171.4 435.9,171.4 437.3,171.4 438.6,171.4 440.0,171.4 441.3,171.4 442.7,171.4 444.1,171.4 445.4,171.4 446.8,171.4 448.1,171.4 449.5,171.4 450.9,171.4 452.2,171.4 453.6,171.4 454.9,171.4 456.3,171.4 457.7,171.4 459.0,171.4 460.4,171.4 461.7,171.4 463.1,171.4 464.5,171.4 465.8,171.4 467.2,171.4 468.5,171.4 469.9,171.4 471.3,171.4 472.6,171.4 474.0,171.4 475.4,171.4 476.7,171.4 478.1,171.4 479.4,171.4 480.8,171.4 482.2,171.4 483.5,171.4 484.9,171.4 486.2,171.4 487.6,171.4 489.0,171.4 490.3,171.4 491.7,171.4 493.0,171.4 494.4,171.4 495.8,171.4 497.1,171.4 498.5,171.4 499.8,171.4 501.2,171.4 502.6,171.4 503.9,171.4 505.3,171.4 506.7,171.4"/>
<polyline points="234.5,191.6 235.9,191.3 237.2,191.1 238.6,190.8 239.9,190.6 241.3,190.3 242.7,190.1 244.0,189.9 245.4,189.6 246.7,189.4 248.1,189.2 249.5,188.9 250.8,188.7 252.2,188.5 253.6,188.3 254.9,188.1 256.3,187.8 257.6,187.6 259.0,187.4 260.4,187.2 261.7,187.0 263.1,186.8 264.4,186.6 265.8,186.4 267.2,186.2 268.5,186.0 269.9,185.9 271.2,185.7 272.6,185.5 274.0,185.3 275.3,185.1 276.7,185.0 278.0,184.8 279.4,184.6 280.8,184.4 282.1,184.3 283.5,184.1 284.8,184.0 286.2,183.8 287.6,183.6 288.9,183.5 290.3,183.3 291.7,183.2 293.0,183.0 294.4,182.9 295.7,182.7 297.1,182.6 298.5,182.4 299.8,182.3 301.2,182.2 302.5,182.0 303.9,181.9 305.3,181.7 306.6,181.6 308.0,181.5 309.3,181.4 310.7,181.2 312.1,181.1 313.4,181.0 314.8,180.9 316.1,180.7 317.5,180.6 318.9,180.5 320.2,180.4 321.6,180.3 322.9,180.2 324.3,180.0 325.7,179.9 327.0,179.8 328.4,179.7 329.8,179.6 331.1,179.5 332.5,179.4 333.8,179.3 335.2,179.2 336.6,179.1 337.9,179.0 339.3,178.9 340.6,178.8 342.0,178.7 343.4,178.6 344.7,178.5 346.1,178.4 347.4,178.3 348.8,178.3 350.2,178.2 351.5,178.1 352.9,178.0 354.2,177.9 355.6,177.8 357.0,177.7 358.3,177.7 359.7,177.6 361.1,177.5 362.4,177.4 363.8,177.4 365.1,177.3 366.5,177.2 367.9,177.1 369.2,177.1 370.6,177.0 371.9,176.9 373.3,176.8 374.7,176.8 376.0,176.7 377.4,176.6 378.7,176.6 380.1,176.5 381.5,176.4 382.8,176.4 384.2,176.3 385.5,176.2 386.9,176.2 388.3,176.1 389.6,176.1 391.0,176.0 392.3,175.9 393.7,175.9 395.1,175.8 396.4,175.8 397.8,175.7 399.2,175.7 400.5,175.6 401.9,175.5 403.2,175.5 404.6,175.4 406.0,175.4 407.3,175.3 408.7,175.3 410.0,175.2 411.4,175.2 412.8,175.1 414.1,175.1 415.5,175.0 416.8,175.0 418.2,175.0 419.6,174.9 420.9,174.9 422.3,174.8 423.6,174.8 425.0,174.7 426.4,174.7 427.7,174.6 429.1,174.6 430.4,174.6 431.8,174.5 433.2,174.5 434.5,174.4 435.9,174.4 437.3,174.4 438.6,174.3 440.0,174.3 441.3,174.3 442.7,174.2 444.1,174.2 445.4,174.1 446.8,174.1 448.1,174.1 449.5,174.0 450.9,174.0 452.2,174.0 453.6,173.9 454.9,173.9 456.3,173.9 457.7,173.8 459.0,173.8 460.4,173.8 461.7,173.8 463.1,173.7 464.5,173.7 465.8,173.7 467.2,173.6 468.5,173.6 469.9,173.6 471.3,173.6 472.6,173.5 474.0,173.5 475.4,173.5 476.7,173.4 478.1,173.4 479.4,173.4 480.8,173.4 482.2,173.3 483.5,173.3 484.9,173.3 486.2,173.3 487.6,173.2 489.0,173.2 490.3,173.2 491.7,173.2 493.0,173.2 494.4,173.1 495.8,173.1 497.1,173.1 498.5,173.1 499.8,173.0 501.2,173.0 502.6,173.0 503.9,173.0 505.3,173.0 506.7,172.9"/>
<polyline points="234.5,176.0 235.9,175.9 237.2,175.9 238.6,175.9 239.9,175.8 241.3,175.8 242.7,175.7 244.0,175.7 245.4,175.7 246.7,175.6 248.1,175.6 249.5,175.5 250.8,175.5 252.2,175.5 253.6,175.4 254.9,175.4 256.3,175.4 257.6,175.3 259.0,175.3 260.4,175.3 261.7,175.2 263.1,175.2 264.4,175.2 265.8,175.1 267.2,175.1 268.5,175.1 269.9,175.0 271.2,175.0 272.6,175.0 274.0,174.9 275.3,174.9 276.7,174.9 278.0,174.8 279.4,174.8 280.8,174.8 282.1,174.7 283.5,174.7 284.8,174.7 286.2,174.7 287.6,174.6 288.9,174.6 290.3,174.6 291.7,174.5 293.0,174.5 294.4,174.5 295.7,174.5 297.1,174.4 298.5,174.4 299.8,174.4 301.2,174.4 302.5,174.3 303.9,174.3 305.3,174.3 306.6,174.3 308.0,174.2 309.3,174.2 310.7,174.2 312.1,174.2 313.4,174.1 314.8,174.1 316.1,174.1 317.5,174.1 318.9,174.0 320.2,174.0 321.6,174.0 322.9,174.0 324.3,173.9 325.7,173.9 327.0,173.9 328.4,173.9 329.8,173.9 331.1,173.8 332.5,173.8 333.8,173.8 335.2,173.8 336.6,173.7 337.9,173.7 339.3,173.7 340.6,173.7 342.0,173.7 343.4,173.6 344.7,173.6 346.1,173.6 347.4,173.6 348.8,173.6 350.2,173.5 351.5,173.5 352.9,173.5 354.2,173.5 355.6,173.5 357.0,173.5 358.3,173.4 359.7,173.4 361.1,173.4 362.4,173.4 363.8,173.4 365.1,173.3 366.5,173.3 367.9,173.3 369.2,173.3 370.6,173.3 371.9,173.3 373.3,173.2 374.7,173.2 376.0,173.2 377.4,173.2 378.7,173.2 380.1,173.2 381.5,173.1 382.8,173.1 384.2,173.1 385.5,173.1 386.9,173.1 388.3,173.1 389.6,173.1 391.0,173.0 392.3,173.0 393.7,173.0 395.1,173.0 396.4,173.0 397.8,173.0 399.2,173.0 400.5,172.9 401.9,172.9 403.2,172.9 404.6,172.9 406.0,172.9 407.3,172.9 408.7,172.9 410.0,172.8 411.4,172.8 412.8,172.8 414.1,172.8 415.5,172.8 416.8,172.8 418.2,172.8 419.6,172.8 420.9,172.7 422.3,172.7 423.6,172.7 425.0,172.7 426.4,172.7 427.7,172.7 429.1,172.7 430.4,172.7 431.8,172.7 433.2,172.6 434.5,172.6 435.9,172.6 437.3,172.6 438.6,172.6 440.0,172.6 441.3,172.6 442.7,172.6 444.1,172.6 445.4,172.5 446.8,172.5 448.1,172.5 449.5,172.5 450.9,172.5 452.2,172.5 453.6,172.5 454.9,172.5 456.3,172.5 457.7,172.5 459.0,172.5 460.4,172.4 461.7,172.4 463.1,172.4 464.5,172.4 465.8,172.4 467.2,172.4 468.5,172.4 469.9,172.4 471.3,172.4 472.6,172.4 474.0,172.4 475.4,172.3 476.7,172.3 478.1,172.3 479.4,172.3 480.8,172.3 482.2,172.3 483.5,172.3 484.9,172.3 486.2,172.3 487.6,172.3 489.0,172.3 490.3,172.3 491.7,172.2 493.0,172.2 494.4,172.2 495.8,172.2 497.1,172.2 498.5,172.2 499.8,172.2 501.2,172.2 502.6,172.2 503.9,172.2 505.3,172.2 506.7,172.2"/>
</g>
<line x1="234.1" y1="38.3" x2="234.1" y2="319" stroke="#000" stroke-width="2.1" stroke-dasharray="3.25 1.3"/>
<g stroke="#000" stroke-width="1.75" fill="none">
<rect x="97.05" y="23.90" width="412.35" height="295.00"/>
</g><g stroke="#000" stroke-width="1.6">
<line x1="165.8" y1="318.9" x2="165.8" y2="313.9"/>
<line x1="165.8" y1="23.9" x2="165.8" y2="28.9"/>
<line x1="234.5" y1="318.9" x2="234.5" y2="313.9"/>
<line x1="234.5" y1="23.9" x2="234.5" y2="28.9"/>
<line x1="303.2" y1="318.9" x2="303.2" y2="313.9"/>
<line x1="303.2" y1="23.9" x2="303.2" y2="28.9"/>
<line x1="371.9" y1="318.9" x2="371.9" y2="313.9"/>
<line x1="371.9" y1="23.9" x2="371.9" y2="28.9"/>
<line x1="440.7" y1="318.9" x2="440.7" y2="313.9"/>
<line x1="440.7" y1="23.9" x2="440.7" y2="28.9"/>
<line x1="97.0" y1="245.1" x2="102.0" y2="245.1"/>
<line x1="509.4" y1="245.1" x2="504.4" y2="245.1"/>
<line x1="97.0" y1="171.4" x2="102.0" y2="171.4"/>
<line x1="509.4" y1="171.4" x2="504.4" y2="171.4"/>
<line x1="97.0" y1="97.6" x2="102.0" y2="97.6"/>
<line x1="509.4" y1="97.6" x2="504.4" y2="97.6"/>
</g>
<circle cx="458.9" cy="38.4" r="3.15" fill="#ff0000"/>
<rect x="455.8" y="55" width="6.2" height="6.2" fill="#ff0000"/>
<path d="M458.9 74.3l3.2 5.5h-6.4z" fill="#ff0000"/>
<g font-family="'Liberation Serif', serif" font-size="19.8" fill="#000">
<text x="99.0" y="345.7" text-anchor="middle">0</text>
<text x="167.8" y="345.7" text-anchor="middle">0.5</text>
<text x="236.5" y="345.7" text-anchor="middle">1</text>
<text x="305.2" y="345.7" text-anchor="middle">1.5</text>
<text x="373.9" y="345.7" text-anchor="middle">2</text>
<text x="442.7" y="345.7" text-anchor="middle">2.5</text>
<text x="511.4" y="345.7" text-anchor="middle">3</text>
<text x="85" y="325.5" text-anchor="end">0</text>
<text x="85" y="251.7" text-anchor="end">0.5</text>
<text x="85" y="178.0" text-anchor="end">1</text>
<text x="85" y="104.2" text-anchor="end">1.5</text>
<text x="85" y="30.5" text-anchor="end">2</text>
<text x="302.7" y="374.7" text-anchor="middle">x/h</text>
<text transform="translate(21.3 171.3) rotate(-90)" text-anchor="middle">c(x)/c<tspan font-size="16.3" dy="4.9">0</tspan><tspan dy="-4.9"> , C(x)/C</tspan><tspan font-size="16.3" dy="4.9">0</tspan></text>
<text x="420.3" y="43.1" text-anchor="end">κ<tspan font-size="16.3" dy="6.6">i</tspan><tspan dy="-6.6">h = 4.9 ± 0.25</tspan></text>
<text x="420.3" y="62.6" text-anchor="end">κ<tspan font-size="16.3" dy="6.6">i</tspan><tspan dy="-6.6">h = 1.21 ± 0.07</tspan></text>
<text x="420.3" y="82.4" text-anchor="end">κ<tspan font-size="16.3" dy="6.6">i</tspan><tspan dy="-6.6">h = 0.81 ± 0.04</tspan></text>
</g>
</svg>
</body></html>
